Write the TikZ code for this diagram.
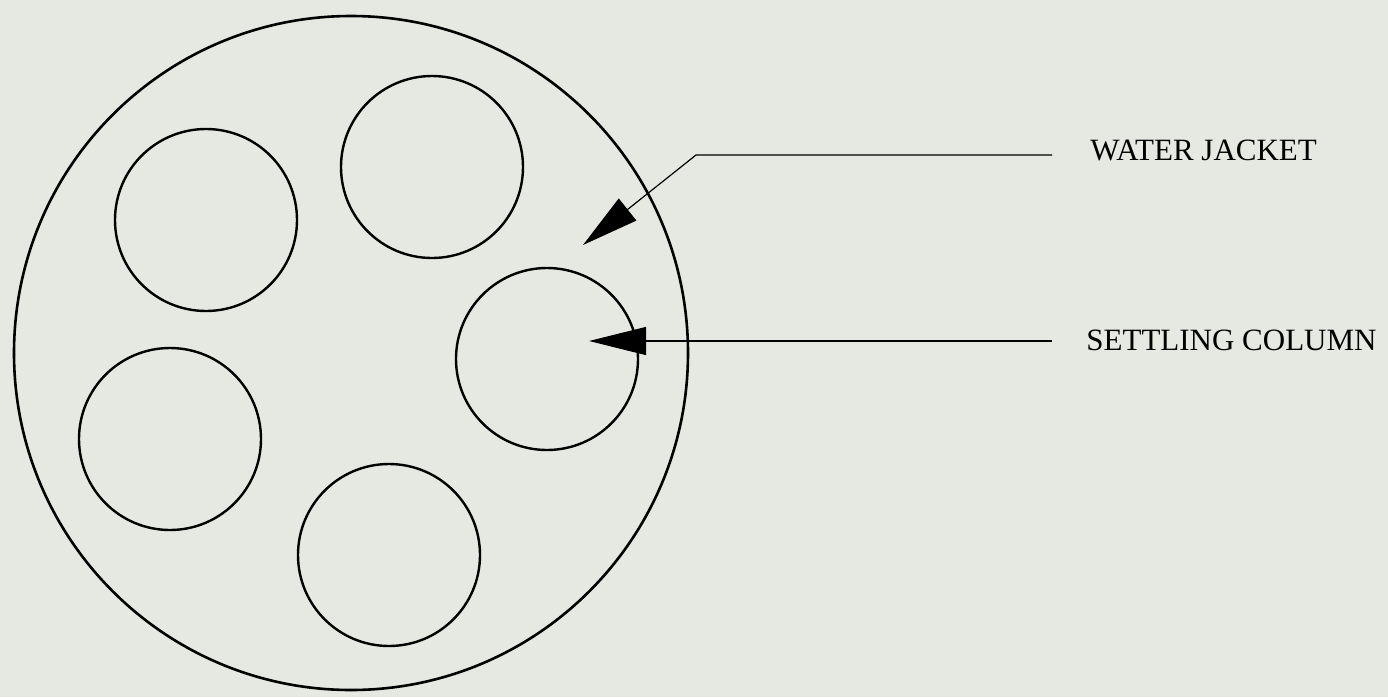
\documentclass[tikz,border=0pt]{standalone}
\usepackage{fontspec}
\setmainfont{Liberation Serif}
\usetikzlibrary{arrows.meta}
\definecolor{paper}{RGB}{230,233,226}
\begin{document}
\begin{tikzpicture}[x=0.5pt,y=-0.5pt,
  outer/.style={draw=black,line width=1.3pt},
  tube/.style={draw=black,line width=1.2pt},
  leader/.style={draw=black,line width=0.6pt,-{Triangle[length=28.5pt,width=14pt]}},
  lbl/.style={anchor=base west,inner sep=0pt,font=\fontsize{15.5}{18}\selectfont}]
\fill[paper] (0,0) rectangle (1388,697);
\useasboundingbox (0,0) rectangle (1388,697);
\draw[outer] (351,353) circle[radius=168.5pt];
\draw[tube] (206,220) circle[radius=45.5pt];
\draw[tube] (432,167) circle[radius=45.5pt];
\draw[tube] (547,359) circle[radius=45.5pt];
\draw[tube] (170,439) circle[radius=45.5pt];
\draw[tube] (389,555) circle[radius=45.5pt];
\node[lbl] (wj) at (1090,160) {WATER JACKET};
\node[lbl] (sc) at (1086,350) {SETTLING COLUMN};
\coordinate (wjs) at (1052,155);
\coordinate (wjk) at (696,155);
\coordinate (wjt) at (583,245);
\coordinate (scs) at (1052,341);
\coordinate (sct) at (589,341);
\draw[leader] (wjs) -- (wjk) -- (wjt);
\draw[leader] (scs) -- (sct);
\end{tikzpicture}
\end{document}
